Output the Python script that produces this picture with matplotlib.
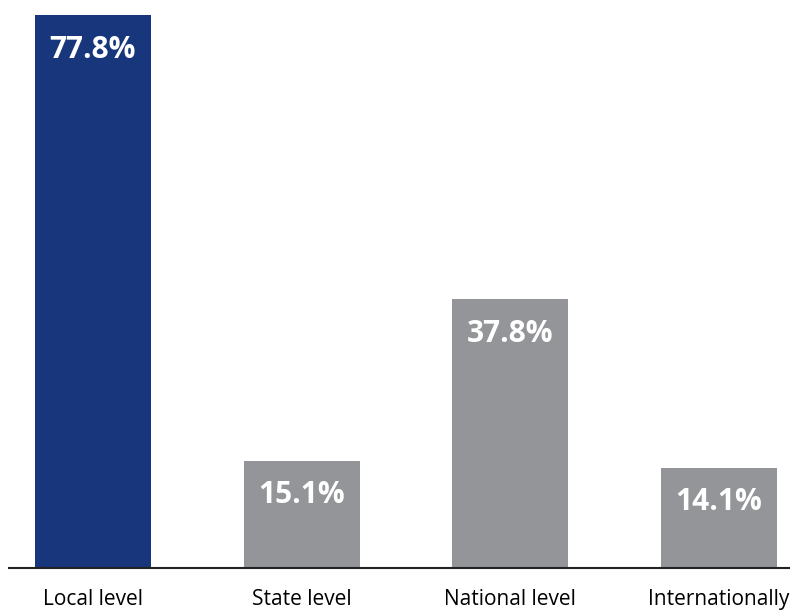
import matplotlib.pyplot as plt
import numpy as np

categories = ['Local level', 'State level', 'National level', 'Internationally']
values = [77.8, 15.1, 37.8, 14.1]
bar_colors = ['#17367b', '#939598', '#939598', '#939598']

plt.rcParams['font.family'] = ['Open Sans', 'DejaVu Sans']

fig = plt.figure(figsize=(7.9, 6.1), dpi=100)
ax = fig.add_axes([9 / 790, 42 / 610, 781 / 790, 568 / 610])

x = np.arange(len(categories))
bars = ax.bar(x, values, width=0.556, color=bar_colors)

for xi, v in zip(x, values):
    ax.annotate(f'{v:.1f}%', xy=(xi, v), xytext=(0, -25), textcoords='offset points',
                ha='center', va='center', color='white', fontsize=21.5, fontweight='bold')

ax.set_xlim(-0.402, 3.34)
ax.set_ylim(0, 79.9)
ax.set_xticks(x)
ax.set_xticklabels(categories, fontsize=15)
ax.tick_params(axis='x', length=0, pad=15)
ax.set_yticks([])
for side in ['top', 'right', 'left']:
    ax.spines[side].set_visible(False)
ax.spines['bottom'].set_linewidth(1.5)
ax.spines['bottom'].set_color('#222222')

fig.savefig('out.png', dpi=100)
